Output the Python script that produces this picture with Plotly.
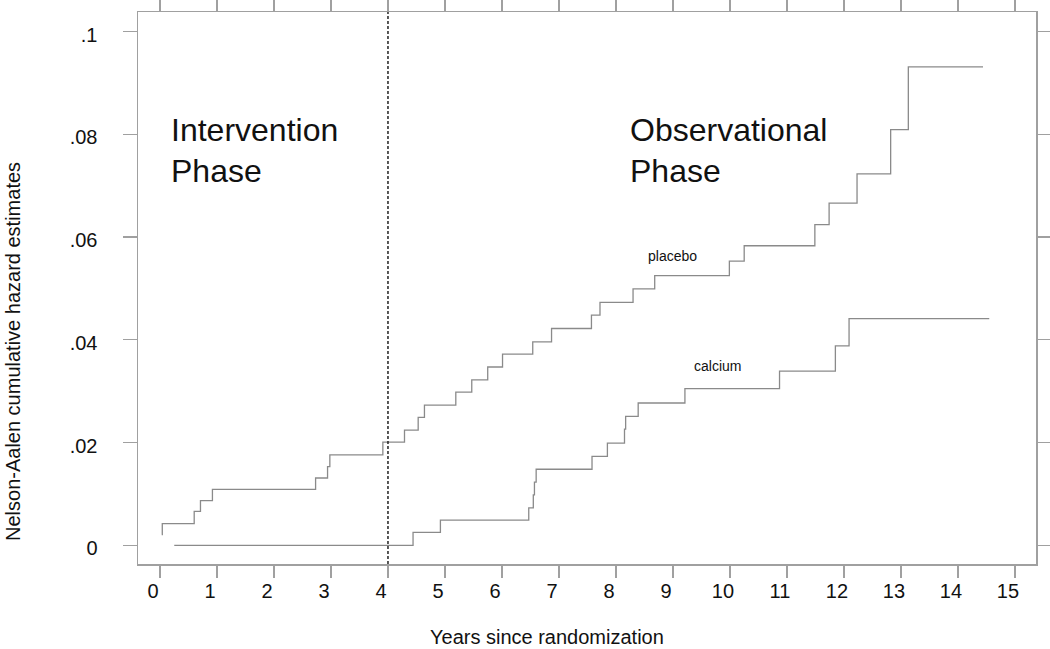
import plotly.graph_objects as go

# Placebo: event times (years) and cumulative hazard after each step
placebo_years = [0.03, 0.04, 0.60, 0.71, 0.92, 2.73, 2.94, 2.98, 3.91, 4.29, 4.53, 4.64,
                 5.19, 5.47, 5.75, 6.01, 6.54, 6.87, 7.57, 7.72, 8.30, 8.68, 9.99, 10.25,
                 11.49, 11.74, 12.23, 12.82, 13.13, 14.44]
placebo_hazard = [0.0021, 0.0042, 0.0066, 0.0087, 0.0109, 0.0131, 0.0153, 0.0176, 0.0201,
                  0.0224, 0.0249, 0.0273, 0.0298, 0.0322, 0.0347, 0.0372, 0.0396, 0.0422,
                  0.0448, 0.0473, 0.0499, 0.0525, 0.0553, 0.0583, 0.0624, 0.0666, 0.0723,
                  0.0809, 0.0931, 0.0931]

# Calcium
calcium_years = [0.25, 4.44, 4.92, 6.47, 6.55, 6.57, 6.60, 7.58, 7.85, 8.15, 8.17, 8.39,
                 9.21, 10.87, 11.85, 12.09, 14.55]
calcium_hazard = [0.0, 0.0025, 0.0049, 0.0073, 0.0098, 0.0123, 0.0148, 0.0173, 0.0199,
                  0.0226, 0.0251, 0.0277, 0.0305, 0.0339, 0.0388, 0.0441, 0.0441]

x_ticks = list(range(0, 16))
y_tickvals = [0, 0.02, 0.04, 0.06, 0.08, 0.1]
y_ticktext = ["0", ".02", ".04", ".06", ".08", ".1"]
phase_boundary = 4

FONT = "Liberation Sans, Arial, Helvetica, sans-serif"
LINE_GREY = "#8a8a8a"
FRAME_GREY = "#a0a0a0"

# desired plot-area box in page pixels
PL, PR, PT, PB = 138, 1036, 12, 564
W, H = 1050, 649

fig = go.Figure()
fig.add_trace(go.Scatter(x=placebo_years, y=placebo_hazard, mode="lines",
                         line=dict(shape="hv", color=LINE_GREY, width=1.3),
                         showlegend=False, hoverinfo="skip"))
fig.add_trace(go.Scatter(x=calcium_years, y=calcium_hazard, mode="lines",
                         line=dict(shape="hv", color=LINE_GREY, width=1.3),
                         showlegend=False, hoverinfo="skip"))

fig.add_shape(type="line", x0=phase_boundary, x1=phase_boundary, xref="x", yref="paper",
              y0=0, y1=1, line=dict(color="#222222", width=1.5, dash="3px,2px"))

ann_font_big = dict(family=FONT, size=32, color="#111111")
ann_font_small = dict(family=FONT, size=14, color="#111111")
annotations = [
    dict(x=0.15, y=0.0809, text="Intervention", xanchor="left", yanchor="middle", font=ann_font_big),
    dict(x=0.15, y=0.0728, text="Phase", xanchor="left", yanchor="middle", font=ann_font_big),
    dict(x=8.21, y=0.0809, text="Observational", xanchor="left", yanchor="middle", font=ann_font_big),
    dict(x=8.21, y=0.0728, text="Phase", xanchor="left", yanchor="middle", font=ann_font_big),
    dict(x=9.0, y=0.0563, text="placebo", xanchor="center", yanchor="middle", font=ann_font_small),
    dict(x=9.78, y=0.0349, text="calcium", xanchor="center", yanchor="middle", font=ann_font_small),
]
for a in annotations:
    a.update(xref="x", yref="y", showarrow=False)
    fig.add_annotation(**a)

# axis titles (placed in page pixels relative to the plot box)
fig.add_annotation(text="Nelson-Aalen cumulative hazard estimates", textangle=-90,
                   xref="paper", yref="paper", x=(13 - PL) / (PR - PL),
                   y=(PB - 352) / (PB - PT), xanchor="center", yanchor="middle",
                   showarrow=False, font=dict(family=FONT, size=20, color="#111111"))
fig.add_annotation(text="Years since randomization",
                   xref="paper", yref="paper", x=(547 - PL) / (PR - PL),
                   y=(PB - 637) / (PB - PT), xanchor="center", yanchor="middle",
                   showarrow=False, font=dict(family=FONT, size=20, color="#111111"))

fig.update_xaxes(range=[-0.386, 15.37], tickvals=x_ticks, ticktext=[str(t) for t in x_ticks],
                 showgrid=False, zeroline=False, showline=True, linecolor=FRAME_GREY, linewidth=1.5,
                 mirror="ticks", ticks="outside", ticklen=12, tickcolor=FRAME_GREY, tickwidth=1.2,
                 tickfont=dict(family=FONT, size=20, color="#111111"),
                 ticklabelshift=-7, ticklabelstandoff=-4)
fig.update_yaxes(range=[-0.00364, 0.1038], tickvals=y_tickvals, ticktext=y_ticktext,
                 showgrid=False, zeroline=False, showline=True, linecolor=FRAME_GREY, linewidth=1.5,
                 mirror="ticks", ticks="outside", ticklen=14, tickcolor=FRAME_GREY, tickwidth=1.2,
                 tickfont=dict(family=FONT, size=20, color="#111111"),
                 ticklabelshift=3, ticklabelstandoff=21)

fig.update_layout(width=W, height=H,
                  margin=dict(l=PL, r=W - PR, t=PT, b=H - PB, autoexpand=False),
                  paper_bgcolor="white", plot_bgcolor="white", font=dict(family=FONT))

fig.write_html("out.html", config={"displayModeBar": False, "staticPlot": True},
               post_script="document.body.style.margin='0';document.body.style.overflow='hidden';")
